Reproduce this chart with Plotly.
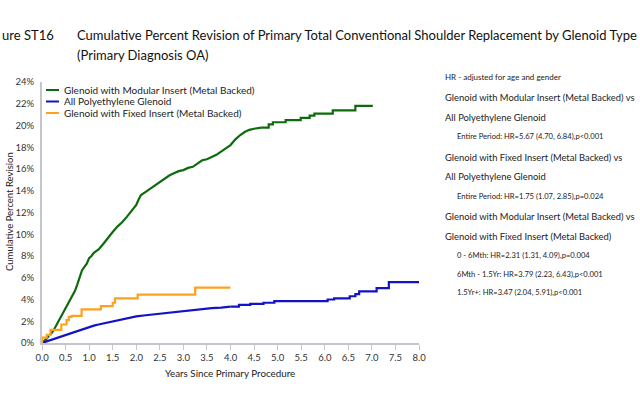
import plotly.graph_objects as go

# ---------------- data ----------------
green_name = "Glenoid with Modular Insert (Metal Backed)"
# early, densely-revised period (many small steps)
green_years_early = [0, 0.05, 0.1, 0.15, 0.2, 0.25, 0.3, 0.35, 0.4, 0.45, 0.5, 0.55, 0.6, 0.65, 0.7,
                     0.75, 0.8, 0.85, 0.9, 0.95, 1.0, 1.05, 1.1, 1.2, 1.3, 1.4, 1.5, 1.6, 1.7, 1.8,
                     1.9, 2.0, 2.05, 2.1, 2.2, 2.3, 2.4, 2.5, 2.6, 2.7, 2.8, 2.9, 3.0, 3.1, 3.2, 3.3,
                     3.4, 3.5, 3.6, 3.7, 3.8, 3.9, 4.0, 4.1, 4.2, 4.3, 4.4, 4.5, 4.65]
green_pct_early = [0, 0.2, 0.4, 0.7, 0.9, 1.2, 1.6, 2.0, 2.4, 2.8, 3.2, 3.5, 3.9, 4.3, 4.8,
                   5.4, 6.1, 6.7, 7.0, 7.3, 7.8, 8.0, 8.3, 8.6, 9.1, 9.7, 10.2, 10.7, 11.1, 11.6,
                   12.1, 12.7, 13.2, 13.6, 13.9, 14.2, 14.5, 14.8, 15.1, 15.4, 15.6, 15.8, 15.9, 16.1, 16.2, 16.5,
                   16.8, 16.9, 17.1, 17.3, 17.6, 17.9, 18.2, 18.7, 19.1, 19.4, 19.6, 19.7, 19.8]
# later period (distinct steps)
green_years_late = [4.65, 4.81, 4.9, 5.17, 5.49, 5.68, 5.78, 6.17, 6.65, 7.02]
green_pct_late = [19.8, 20.1, 20.3, 20.5, 20.7, 20.9, 21.1, 21.4, 21.8, 21.8]

blue_name = "All Polyethylene Glenoid"
blue_years_early = [0, 0.1, 0.2, 0.3, 0.4, 0.5, 0.6, 0.7, 0.8, 0.9, 1.0, 1.1, 1.2, 1.3, 1.4, 1.5,
                    1.6, 1.7, 1.8, 1.9, 2.0, 2.2, 2.4, 2.6, 2.8, 3.0, 3.2, 3.4, 3.6, 3.8, 4.0]
blue_pct_early = [0, 0.15, 0.3, 0.45, 0.6, 0.75, 0.9, 1.0, 1.15, 1.3, 1.45, 1.6, 1.7, 1.8, 1.9, 2.0,
                  2.1, 2.2, 2.3, 2.4, 2.45, 2.55, 2.65, 2.75, 2.85, 2.9, 3.0, 3.1, 3.2, 3.25, 3.35]
blue_years_late = [4.0, 4.18, 4.42, 4.7, 4.93, 6.06, 6.2, 6.53, 6.65, 6.73, 7.1, 7.36, 8.0]
blue_pct_late = [3.35, 3.5, 3.6, 3.7, 3.85, 4.0, 4.1, 4.3, 4.5, 4.75, 5.05, 5.6, 5.6]

orange_name = "Glenoid with Fixed Insert (Metal Backed)"
orange_years = [0, 0, 0.1, 0.18, 0.41, 0.52, 0.57, 0.63, 0.84, 1.25, 1.5, 1.55, 2.03, 3.25, 4.0]
orange_pct = [0, 0.5, 0.75, 1.2, 1.7, 2.1, 2.4, 2.5, 3.1, 3.4, 3.7, 4.1, 4.45, 5.1, 5.1]

x_ticks = [0, 0.5, 1, 1.5, 2, 2.5, 3, 3.5, 4, 4.5, 5, 5.5, 6, 6.5, 7, 7.5, 8]
x_tick_labels = ["0.0", "0.5", "1.0", "1.5", "2.0", "2.5", "3.0", "3.5", "4.0", "4.5",
                 "5.0", "5.5", "6.0", "6.5", "7.0", "7.5", "8.0"]
y_ticks = [0, 2, 4, 6, 8, 10, 12, 14, 16, 18, 20, 22, 24]
y_tick_labels = ["0%", "2%", "4%", "6%", "8%", "10%", "12%", "14%", "16%", "18%", "20%", "22%", "24%"]

title_prefix = "ure ST16"
title_line1 = "Cumulative Percent Revision of Primary Total Conventional Shoulder Replacement by Glenoid Type"
title_line2 = "(Primary Diagnosis OA)"
y_title = "Cumulative Percent Revision"
x_title = "Years Since Primary Procedure"

hr_note = "HR - adjusted for age and gender"
hr_blocks = [
    ("Glenoid with Modular Insert (Metal Backed) vs", "All Polyethylene Glenoid",
     ["Entire Period: HR=5.67 (4.70, 6.84),p<0.001"]),
    ("Glenoid with Fixed Insert (Metal Backed) vs", "All Polyethylene Glenoid",
     ["Entire Period: HR=1.75 (1.07, 2.85),p=0.024"]),
    ("Glenoid with Modular Insert (Metal Backed) vs", "Glenoid with Fixed Insert (Metal Backed)",
     ["0 - 6Mth: HR=2.31 (1.31, 4.09),p=0.004",
      "6Mth - 1.5Yr: HR=3.79 (2.23, 6.43),p<0.001",
      "1.5Yr+: HR=3.47 (2.04, 5.91),p<0.001"]),
]

colors = {"green": "#0d6b0d", "blue": "#1212c8", "orange": "#ffa01e"}
FONT = "Lato"

# ---------------- layout geometry ----------------
W, H = 640, 398
L, R, T, B = 42, 221, 82, 55
PW, PH = W - L - R, H - T - B


def px(x):
    return (x - L) / PW


def py(y):
    return (H - B - y) / PH


def note(text, x, y, size, color="#222222", **kw):
    d = dict(text=text, x=px(x), y=py(y), xref="paper", yref="paper",
             xanchor="left", yanchor="middle", showarrow=False,
             font=dict(size=size, color=color, family=FONT))
    d.update(kw)
    return d


fig = go.Figure()
for xs, ys, c, shape in [
    (green_years_early, green_pct_early, colors["green"], "linear"),
    (green_years_late, green_pct_late, colors["green"], "hv"),
    (blue_years_early, blue_pct_early, colors["blue"], "linear"),
    (blue_years_late, blue_pct_late, colors["blue"], "hv"),
    (orange_years, orange_pct, colors["orange"], "hv"),
]:
    fig.add_trace(go.Scatter(x=xs, y=ys, mode="lines",
                             line=dict(color=c, width=2.2, shape=shape),
                             showlegend=False, hoverinfo="skip"))

annotations = []
shapes = []

# title
annotations.append(note(title_prefix, 0, 35, 13, "#111111"))
annotations.append(note(title_line1, 75, 35, 13, "#111111"))
annotations.append(note(title_line2, 75, 55, 13, "#111111"))

# legend (drawn manually for compact spacing)
for i, (name, c) in enumerate([(green_name, colors["green"]), (blue_name, colors["blue"]),
                               (orange_name, colors["orange"])]):
    yy = 90 + i * 11.5
    shapes.append(dict(type="line", xref="paper", yref="paper", x0=px(46), x1=px(59),
                       y0=py(yy), y1=py(yy), line=dict(color=c, width=2)))
    annotations.append(note(name, 62, yy, 10))

# axis titles
annotations.append(note(y_title, 9, 212, 9.5, xanchor="center", textangle=-90))
annotations.append(note(x_title, 230, 373, 9.8, xanchor="center"))

# right panel
annotations.append(note(hr_note, 443, 77, 8))
ycur = 98
for head1, head2, subs in hr_blocks:
    for t in (head1, head2):
        annotations.append(note(t, 443, ycur, 9.4))
        ycur += 19
    for s in subs:
        annotations.append(note(s, 455, ycur, 7.6))
        ycur += 18.5
    ycur += 3

fig.update_layout(
    width=W, height=H,
    margin=dict(l=L, r=R, t=T, b=B, pad=0),
    paper_bgcolor="white", plot_bgcolor="white",
    font=dict(family=FONT, size=10, color="#333333"),
    showlegend=False,
    xaxis=dict(range=[0, 8], tickmode="array", tickvals=x_ticks, ticktext=x_tick_labels,
               showgrid=False, zeroline=False,
               showline=True, linecolor="#c4c4cc", linewidth=2, ticks="outside", ticklen=5,
               tickcolor="#c4c4cc", tickwidth=1, tickfont=dict(size=9.5, color="#333333")),
    yaxis=dict(range=[0, 24], tickmode="array", tickvals=y_ticks, ticktext=y_tick_labels,
               showgrid=False, zeroline=False, ticklabelstandoff=4,
               showline=True, linecolor="#c4c4cc", linewidth=2, ticks="",
               tickfont=dict(size=9.5, color="#333333")),
    annotations=annotations, shapes=shapes,
)

fig.write_html("out.html", config={"displayModeBar": False},
               post_script="document.body.style.margin='0';document.body.style.overflow='hidden';")
